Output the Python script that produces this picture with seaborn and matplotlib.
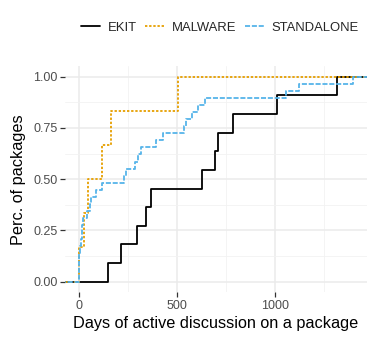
import matplotlib.pyplot as plt
import numpy as np
import pandas as pd
import seaborn as sns
from matplotlib.ticker import MultipleLocator

# days of active discussion per package
ekit_days = [149, 215, 295, 343, 370, 628, 696, 710, 788, 1013, 1317]
malware_days = [3, 25, 45, 120, 164, 504]
standalone_days = [0, 0, 1, 3, 8, 11, 15, 18, 21, 40, 58, 60, 89, 120, 229, 241,
                   285, 300, 320, 395, 428, 536, 548, 580, 610, 645, 1059, 1125, 1399]
groups = ["EKIT", "MALWARE", "STANDALONE"]
colors = ["black", "#E69F00", "#56B4E9"]
x_ticks = [0, 500, 1000]
y_ticks = [0.0, 0.25, 0.5, 0.75, 1.0]


def ecdf_steps(name, days):
    days = np.sort(np.array(days, dtype=float))
    n = len(days)
    x = np.r_[-1e4, days, 1e4]
    y = np.r_[0, np.arange(1, n + 1) / n, 1]
    return pd.DataFrame({"days": x, "perc": y, "group": name})


df = pd.concat([ecdf_steps("EKIT", ekit_days),
                ecdf_steps("MALWARE", malware_days),
                ecdf_steps("STANDALONE", standalone_days)], ignore_index=True)

sns.set_theme(style="whitegrid")
plt.rcParams["font.family"] = ["Liberation Sans", "DejaVu Sans"]

fig = plt.figure(figsize=(3.74, 3.41), dpi=100)
ax = fig.add_axes([0.174, 0.144, 0.806, 0.661])

sns.lineplot(data=df, x="days", y="perc", hue="group", style="group",
             hue_order=groups, style_order=groups,
             palette=dict(zip(groups, colors)),
             dashes={"EKIT": "", "MALWARE": (1.3, 1.0), "STANDALONE": (2.8, 1.0)},
             estimator=None, sort=False, drawstyle="steps-post",
             linewidth=1.3, ax=ax, legend=True)

ax.set_xlim(-70, 1469)
ax.set_ylim(-0.05, 1.05)
ax.set_xticks(x_ticks)
ax.set_yticks(y_ticks)
ax.set_yticklabels([f"{v:.2f}" for v in y_ticks])
ax.xaxis.set_minor_locator(MultipleLocator(250))
ax.yaxis.set_minor_locator(MultipleLocator(0.125))
ax.grid(which="major", color="#EBEBEB", linewidth=1.1)
ax.grid(which="minor", color="#F2F2F2", linewidth=0.6)
for s in ax.spines.values():
    s.set_visible(False)
ax.tick_params(which="major", length=3.5, width=0.9, color="#333333",
               labelcolor="#4D4D4D", labelsize=9, pad=2, bottom=True, left=True)
ax.tick_params(which="minor", length=0)

ax.set_xlabel("Days of active discussion on a package", fontsize=11.7,
              color="black", labelpad=3)
ax.set_ylabel("Perc. of packages", fontsize=11.7, color="black", labelpad=5)

handles, labels = ax.get_legend_handles_labels()
ax.get_legend().remove()
fig.legend(handles, labels, loc="center", bbox_to_anchor=(0.588, 0.918),
           ncol=3, frameon=False, fontsize=9.4, handlelength=1.5,
           handletextpad=0.55, columnspacing=0.65)

fig.savefig("out.png", dpi=100)
